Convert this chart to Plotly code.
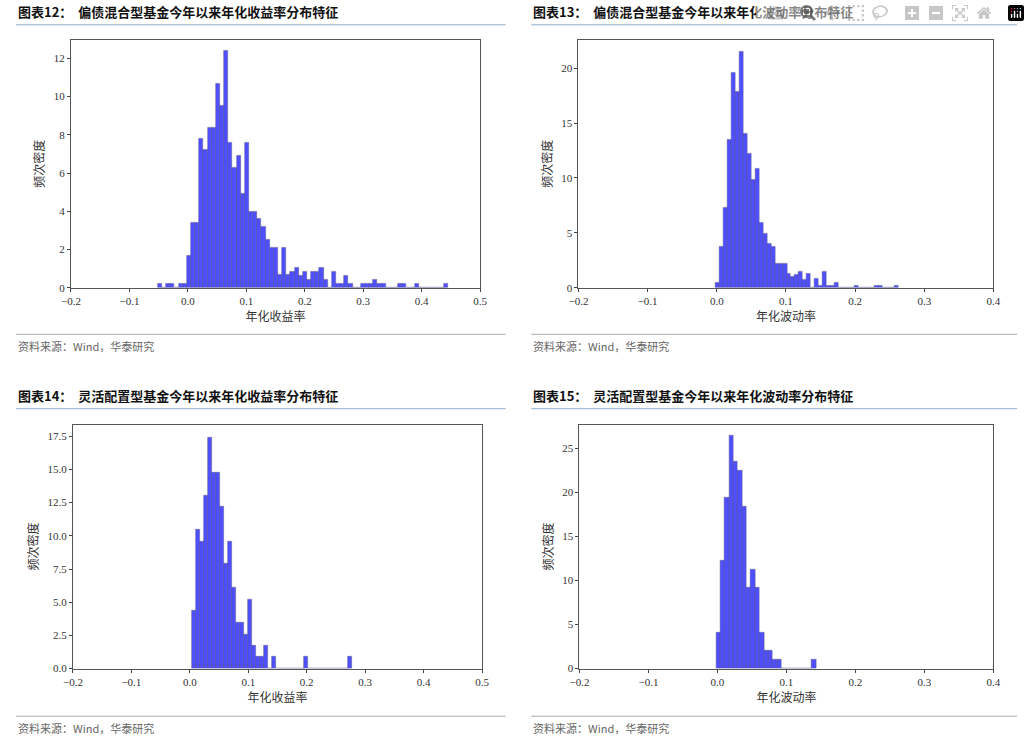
import plotly.graph_objects as go

titles = ["图表12：  偏债混合型基金今年以来年化收益率分布特征",
          "图表13：  偏债混合型基金今年以来年化波动率分布特征",
          "图表14：  灵活配置型基金今年以来年化收益率分布特征",
          "图表15：  灵活配置型基金今年以来年化波动率分布特征"]
xlabels = ["年化收益率", "年化波动率", "年化收益率", "年化波动率"]
source = "资料来源：Wind，华泰研究"

# histogram densities (bin start, bin width, heights)
h1_start, h1_width = -0.0515, 0.00709
h1 = [0.2, 0, 0.2, 0.2, 0, 0.2, 0.2, 1.7, 3.4, 3.4, 7.8, 7.2, 8.4, 8.4, 10.7, 9.5, 12.4, 7.6, 6.3, 6.9,
      4.9, 7.6, 4.0, 4.0, 3.6, 3.2, 2.5, 2.1, 2.1, 0.7, 2.1, 0.7, 0.85, 1.05, 0.65, 0.85, 0.4, 0.85, 0.85, 1.05,
      0.4, 0, 0.85, 0.2, 0.2, 0.65, 0.2, 0, 0, 0.2, 0.2, 0.2, 0.4, 0.2, 0.2, 0, 0, 0, 0.2, 0.2,
      0, 0, 0.2, 0, 0, 0, 0, 0, 0, 0.2]
h2_start, h2_width = -0.0019, 0.00574
h2 = [0.5, 3.7, 7.3, 13.5, 19.6, 17.9, 21.5, 14.0, 12.2, 9.8, 10.8, 5.9, 4.9, 4.0, 3.7, 2.2, 2.2, 2.2, 1.3, 1.0,
      1.2, 1.5, 0.7, 1.3, 0, 0.8, 0.2, 1.5, 0.2, 0.2, 0.5, 0, 0, 0, 0, 0.2, 0, 0, 0, 0,
      0.2, 0.2, 0, 0, 0, 0.2]
h3_start, h3_width = 0.003, 0.00685
h3 = [4.4, 10.5, 9.6, 13.0, 17.4, 14.8, 14.8, 12.2, 7.9, 9.6, 6.1, 3.5, 3.5, 2.6, 5.2, 1.7, 0.87, 0.87, 1.7, 0,
      0.87, 0, 0, 0, 0, 0, 0, 0, 0.87, 0, 0, 0, 0, 0, 0, 0, 0, 0, 0, 0.87]
h4_start, h4_width = -0.0019, 0.0063
h4 = [4.1, 12.3, 19.4, 26.5, 23.5, 22.5, 18.4, 9.2, 11.2, 9.2, 4.1, 2.0, 2.0, 1.0, 1.0, 0, 0, 0, 0, 0, 0, 0, 1.0]

hists = [(h1_start, h1_width, h1), (h2_start, h2_width, h2), (h3_start, h3_width, h3), (h4_start, h4_width, h4)]
xranges = [[-0.2, 0.5], [-0.2, 0.4], [-0.2, 0.5], [-0.2, 0.4]]
yranges = [[0, 12.98], [0, 22.6], [0, 18.38], [0, 27.7]]
yticks = [[0, 2, 4, 6, 8, 10, 12], [0, 5, 10, 15, 20], [0, 2.5, 5, 7.5, 10, 12.5, 15, 17.5], [0, 5, 10, 15, 20, 25]]

W, H = 1030, 748
doms_x = [[62/W, 478/W], [578/W, 1000/W], [64/W, 480/W], [579/W, 1000/W]]
doms_y = [[1-290/H, 1-40/H], [1-290/H, 1-40/H], [1-674/H, 1-428/H], [1-674/H, 1-428/H]]

fig = go.Figure()
serif = "Liberation Serif"
cjk = "Noto Sans CJK SC"
layout = {}
for k, (s, w, hs) in enumerate(hists):
    xs = [s + w * (i + 0.5) for i in range(len(hs))]
    ax = "" if k == 0 else str(k + 1)
    fig.add_trace(go.Bar(x=xs, y=hs, width=w, xaxis="x" + ax, yaxis="y" + ax,
                         marker=dict(color="rgba(20,20,255,0.75)", line=dict(color="rgba(90,90,140,0.8)", width=0.6)),
                         showlegend=False))
    ticks = [round(-0.2 + 0.1 * i, 1) for i in range(int(round((xranges[k][1] + 0.2) / 0.1)) + 1)]
    layout["xaxis" + ax] = dict(domain=doms_x[k], range=xranges[k], anchor="y" + ax,
                                tickvals=ticks, ticktext=[("−" if t < 0 else "") + f"{abs(t):.1f}" for t in ticks],
                                showline=True, linecolor="#555", mirror=True, ticks="outside", ticklen=3,
                                showgrid=False, zeroline=False, tickfont=dict(family=serif, size=11, color="#333"),
                                title=dict(text=xlabels[k], font=dict(family=cjk, size=12, color="#333"), standoff=4))
    layout["yaxis" + ax] = dict(domain=doms_y[k], range=yranges[k], anchor="x" + ax,
                                tickvals=yticks[k], ticktext=[f"{v:g}" if k != 2 else f"{v:.1f}" for v in yticks[k]],
                                showline=True, linecolor="#555", mirror=True, ticks="outside", ticklen=3,
                                showgrid=False, zeroline=False, tickfont=dict(family=serif, size=11, color="#333"),
                                title=dict(text="频次密度", font=dict(family=cjk, size=12, color="#333"), standoff=6))

shapes = []
annotations = []
tpos = [(6, 12), (530, 12), (6, 399), (530, 399)]
for k, (px, py) in enumerate(tpos):
    annotations.append(dict(x=px/W, y=1-py/H, xref="paper", yref="paper", xanchor="left", yanchor="middle",
                            text="<b>" + titles[k] + "</b>", showarrow=False,
                            font=dict(family=cjk, size=13, color="#111")))
    x0 = px/W
    x1 = (504 if px < 500 else 1024)/W
    ly = 1-(py+13)/H
    shapes.append(dict(type="line", xref="paper", yref="paper", x0=x0, x1=x1, y0=ly, y1=ly,
                       line=dict(color="#8fb0d0", width=1)))
    sy = py + 325 if py < 100 else 722
    shapes.append(dict(type="line", xref="paper", yref="paper", x0=x0, x1=x1, y0=1-sy/H, y1=1-sy/H,
                       line=dict(color="#aaaaaa", width=1)))
    annotations.append(dict(x=px/W, y=1-(sy+12)/H, xref="paper", yref="paper", xanchor="left", yanchor="middle",
                            text=source, showarrow=False, font=dict(family=cjk, size=11, color="#666")))

fig.update_layout(width=W, height=H, margin=dict(l=0, r=0, t=0, b=0), plot_bgcolor="white",
                  paper_bgcolor="white", bargap=0, shapes=shapes, annotations=annotations, **layout)
fig.write_html("out.html",
               post_script="document.body.style.margin='0';document.body.style.overflow='hidden';")
